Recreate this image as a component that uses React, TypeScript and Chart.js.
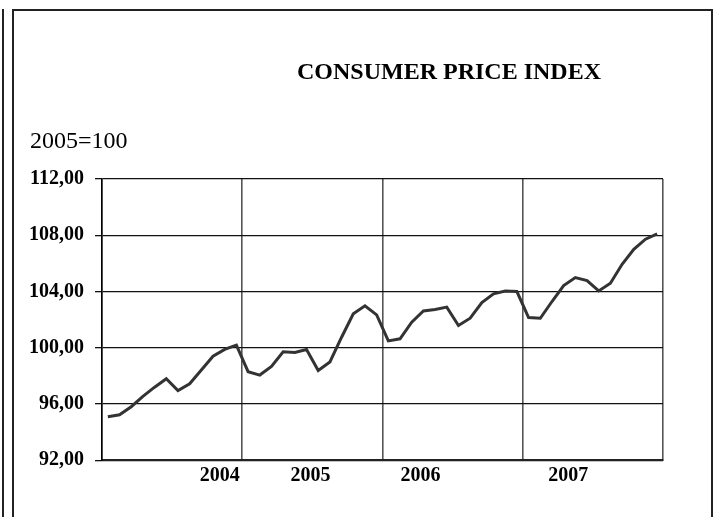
import React, { useEffect, useRef } from "react";
import { Chart, registerables } from "chart.js";

Chart.register(...registerables);

const TITLE = "CONSUMER PRICE INDEX";
const SUBTITLE = "2005=100";

// 48 monthly observations, Jan 2004 .. Dec 2007 (index 0..47)
const cpiValues = [
  95.1, 95.24, 95.81, 96.55, 97.2, 97.8, 96.96, 97.44, 98.42, 99.4, 99.88, 100.19,
  98.3, 98.06, 98.68, 99.71, 99.67, 99.88, 98.39, 98.99, 100.75, 102.41, 102.98, 102.34,
  100.49, 100.64, 101.82, 102.62, 102.72, 102.89, 101.58, 102.1, 103.22, 103.83, 104.04, 104.0,
  102.15, 102.1, 103.29, 104.42, 104.99, 104.78, 104.04, 104.59, 105.94, 107.0, 107.72, 108.09,
];

// Year tick labels and where the source chart placed them along the month axis
const yearLabels = ["2004", "2005", "2006", "2007"];
const yearLabelMonths = [10.07, 17.84, 27.25, 39.9];
// Vertical gridlines (year boundaries, in months)
const yearGridMonths = [0, 12, 24, 36, 48];

const Y_MIN = 92;
const Y_MAX = 112;
const Y_STEP = 4;

const SERIF = '"Liberation Serif", "Times New Roman", serif';

export default function App() {
  const ref = useRef<HTMLCanvasElement | null>(null);

  useEffect(() => {
    const canvas = ref.current;
    if (!canvas) return;

    const titlePlugin = {
      id: "fixedTitles",
      afterDraw(chart: any) {
        const ctx = chart.ctx;
        ctx.save();
        ctx.fillStyle = "#000";
        ctx.textBaseline = "alphabetic";
        ctx.font = `bold 24px ${SERIF}`;
        ctx.textAlign = "center";
        ctx.fillText(TITLE, 449, 78.5);
        ctx.font = `24px ${SERIF}`;
        ctx.textAlign = "left";
        ctx.fillText(SUBTITLE, 30, 147.5);
        ctx.restore();
      },
    };

    const chart = new Chart(canvas, {
      type: "line",
      data: {
        datasets: [
          {
            label: TITLE,
            data: cpiValues.map((v, i) => ({ x: i + 0.5, y: v })),
            borderColor: "#333333",
            borderWidth: 3,
            pointRadius: 0,
            tension: 0,
            fill: false,
          },
        ],
      },
      options: {
        responsive: false,
        animation: false,
        devicePixelRatio: 1,
        layout: { padding: { left: 14, right: 51, top: 179, bottom: 0 } },
        plugins: {
          legend: { display: false },
          title: { display: false },
          tooltip: { enabled: false },
        },
        scales: {
          x: {
            type: "linear",
            min: 0,
            max: 48,
            afterBuildTicks: (scale: any) => {
              const vals = [...yearGridMonths, ...yearLabelMonths].sort((a, b) => a - b);
              scale.ticks = vals.map((v) => ({ value: v }));
            },
            afterFit: (scale: any) => {
              scale.height = 56.7;
            },
            grid: {
              drawTicks: false,
              lineWidth: 1.6,
              color: (ctx: any) =>
                ctx.tick && yearGridMonths.includes(ctx.tick.value) ? "#555555" : "rgba(0,0,0,0)",
            },
            border: { display: true, color: "#222222", width: 2 },
            ticks: {
              autoSkip: false,
              maxRotation: 0,
              padding: 4,
              color: "#000",
              font: { family: SERIF, size: 20, weight: "bold" },
              callback: (value: any) => {
                const idx = yearLabelMonths.indexOf(Number(value));
                return idx >= 0 ? yearLabels[idx] : "";
              },
            },
          },
          y: {
            min: Y_MIN,
            max: Y_MAX,
            afterFit: (scale: any) => {
              scale.width = 88;
            },
            grid: {
              color: "#111111",
              lineWidth: 1.3,
              tickLength: 7,
              drawTicks: true,
            },
            border: { display: true, color: "#000", width: 1.5 },
            ticks: {
              stepSize: Y_STEP,
              padding: 11,
              color: "#000",
              font: { family: SERIF, size: 20, weight: "bold" },
              callback: (value: any) => Number(value).toFixed(2).replace(".", ","),
            },
          },
        },
      },
      plugins: [titlePlugin],
    });

    return () => chart.destroy();
  }, []);

  return (
    <div style={{ position: "fixed", left: 0, top: 0, width: 714, height: 517, background: "#fff", overflow: "hidden" }}>
      <div style={{ position: "absolute", left: 2, top: 9, width: 2, height: 520, background: "#222" }} />
      <div
        style={{
          position: "absolute",
          left: 12,
          top: 9,
          width: 697,
          height: 520,
          borderLeft: "2px solid #222",
          borderTop: "2px solid #222",
          borderRight: "2px solid #222",
        }}
      />
      <canvas ref={ref} width={714} height={517} style={{ position: "absolute", left: 0, top: 0, width: 714, height: 517 }} />
    </div>
  );
}
